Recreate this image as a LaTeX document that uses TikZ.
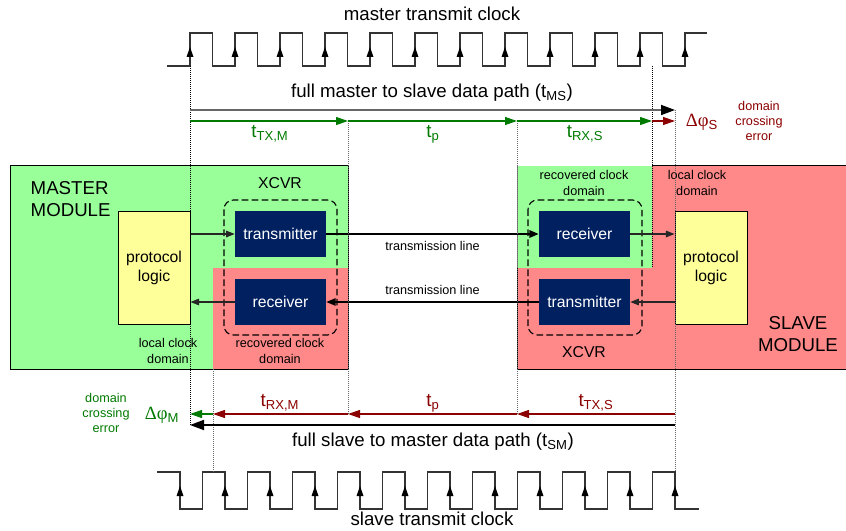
\documentclass[tikz,border=0pt]{standalone}
\usepackage{fontspec}
\setmainfont{Liberation Sans}
\newfontfamily\grkfont{Liberation Serif}
\usetikzlibrary{arrows.meta}

\definecolor{modgreen}{HTML}{99FF99}
\definecolor{modred}{HTML}{FF8888}
\definecolor{logicyellow}{HTML}{FFFF99}
\definecolor{xnavy}{HTML}{002060}
\definecolor{tgreen}{HTML}{007A00}
\definecolor{tred}{HTML}{8B0000}

\begin{document}
\begin{tikzpicture}[
        x=0.75pt, y=-0.75pt,
        font=\fontsize{14}{16.5}\selectfont,
        logic/.style={draw, line width=0.75pt, fill=logicyellow, minimum width=54pt, minimum height=84pt, inner sep=0pt, align=center, font=\fontsize{11.8}{13.75}\selectfont},
        xblk/.style={fill=xnavy, text=white, minimum width=68.25pt, minimum height=34.5pt, inner sep=0pt, font=\fontsize{11.8}{14}\selectfont},
        xcvr/.style={dash pattern=on 5pt off 2.5pt, line width=0.8pt, rounded corners=7pt},
        lbl/.style={align=center, font=\fontsize{9.5}{12.5}\selectfont},
        errlbl/.style={align=center, font=\fontsize{9.5}{10.9}\selectfont},
        link/.style={-{Triangle[length=6.5pt,width=5pt]}, line width=0.8pt, black!85},
        tline/.style={-{Triangle[length=7pt,width=5.5pt]}, line width=1.5pt},
        tline2/.style={-{Triangle[length=7pt,width=5.5pt]}, line width=1pt},
        tarr/.style={-{Triangle[length=9pt,width=6pt]}, line width=0.9pt},
        path/.style={-{Triangle[length=10.5pt,width=7.5pt,color=black]}, line width=1.3pt},
        clk/.style={line width=1pt, black!80},
        dotk/.style={black, line width=0.7pt, dash pattern=on 0.75pt off 0.75pt},
        dotg/.style={black!60, line width=0.7pt, dash pattern=on 0.75pt off 0.75pt}
    ]
        \useasboundingbox (0,0) rectangle (846,531);

        % modules
        \draw[fill=modgreen, line width=0.75pt] (10,166) rectangle (348,369);
        \fill[modred] (213,268) rectangle (348,369);
        \fill[modred] (517,166) rectangle (846,369);
        \draw[line width=0.75pt] (846,166) -- (652,166);
        \draw[line width=0.75pt] (517,166) -- (517,369) -- (846,369);
        \fill[modgreen] (517,166) rectangle (652,268);
        \draw[black!50, line width=0.5pt] (517,166) -- (517,268);

        \node[anchor=west, align=left, font=\fontsize{14}{16.5}\selectfont] (mmod) at (26,199) {MASTER\\MODULE};
        \node[align=center, font=\fontsize{14}{16.5}\selectfont] (smod) at (798,334) {SLAVE\\MODULE};
        \node[font=\fontsize{11.8}{14}\selectfont] (mxl) at (280,183) {XCVR};
        \node[font=\fontsize{11.8}{14}\selectfont] (sxl) at (584,352) {XCVR};
        \node[lbl] (mloc) at (168,351) {local clock\\domain};
        \node[lbl] (mrec) at (280,351) {recovered clock\\domain};
        \node[lbl] (sloc) at (697,183) {local clock\\domain};
        \node[lbl] (srec) at (584,183) {recovered clock\\domain};

        \draw[xcvr] (224,200) rectangle (337,335);
        \draw[xcvr] (528,200) rectangle (642,335);

        \node[logic] (mlog) at (154,268) {protocol\\logic};
        \node[xblk] (mtx) at (280.5,234) {transmitter};
        \node[xblk] (mrx) at (280.5,302) {receiver};
        \node[xblk] (srx) at (584.5,234) {receiver};
        \node[xblk] (stx) at (584.5,302) {transmitter};
        \node[logic] (slog) at (711,268) {protocol\\logic};

        \draw[link] (mlog.east |- mtx) -- (mtx.west);
        \draw[link] (mrx.west) -- (mlog.east |- mrx);
        \draw[link] (srx.east) -- (slog.west |- srx);
        \draw[link] (slog.west |- stx) -- (stx.east);
        \draw[tline] (mtx.east) -- node[lbl, below=1.5pt] (tl1) {transmission line} (srx.west);
        \draw[tline2] (stx.west) -- node[lbl, above=1.5pt] (tl2) {transmission line} (mrx.east);

        % clocks
        \node (mclk) at (432,14) {master transmit clock};
        \draw[clk] (167,66) \foreach \k in {0,...,10}{ -- ({190+45*\k},66) -- ({190+45*\k},33) -- ({212.5+45*\k},33) -- ({212.5+45*\k},66)} -- (685,66) -- (685,33) -- (707,33);
        \foreach \k in {0,...,11}
            \fill ({190+45*\k},47) -- ++(-3.5,10) -- ++(7,0) -- cycle;
        \node (sclk) at (432,519) {slave transmit clock};
        \draw[clk] (157,472) \foreach \k in {0,...,10}{ -- ({180+45*\k},472) -- ({180+45*\k},509) -- ({202.5+45*\k},509) -- ({202.5+45*\k},472)} -- (675,472) -- (675,509) -- (699,509);
        \foreach \k in {0,...,11}
            \fill ({180+45*\k},486) -- ++(-3.5,10) -- ++(7,0) -- cycle;

        \draw[dotk] (190,66) -- (190,425);
        \draw[dotk] (652,66) -- (652,268);
        \draw[dotg] (675,110) -- (675,472);
        \draw[dotg] (213,369) -- (213,472);
        \draw[dotg] (348,121) -- (348,414);
        \draw[dotg] (517,121) -- (517,414);

        % master to slave
        \coordinate (ga) at (190,110);
        \coordinate (gb) at (675,110);
        \coordinate (ta) at (190,121);
        \coordinate (tb) at (348,121);
        \coordinate (tc) at (517,121);
        \coordinate (td) at (652,121);
        \coordinate (te) at (675,121);
        \node (ms) at (432,93) {full master to slave data path (t\textsubscript{MS})};
        \draw[path, black!60] (ga) -- (gb);
        \draw[tarr, tgreen] (ta) -- (tb);
        \draw[tarr, tgreen] (tb) -- (tc);
        \draw[tarr, tgreen] (tc) -- (td);
        \draw[tarr, tred] (td) -- (te);
        \node[text=tgreen] (ttxm) at (270,134) {t\textsubscript{TX,M}};
        \node[text=tgreen] (tpm) at (433,134) {t\textsubscript{p}};
        \node[text=tgreen] (trxs) at (585,134) {t\textsubscript{RX,S}};
        \node[text=tred] (dps) at (702,122) {{\grkfont Δφ}\textsubscript{S}};
        \node[errlbl, text=tred] (errs) at (759,121) {domain\\crossing\\error};

        % slave to master
        \coordinate (ka) at (675,425);
        \coordinate (kb) at (190,425);
        \coordinate (ba) at (675,414);
        \coordinate (bb) at (517,414);
        \coordinate (bc) at (348,414);
        \coordinate (bd) at (213,414);
        \coordinate (be) at (190,414);
        \draw[tarr, tred] (ba) -- (bb);
        \draw[tarr, tred] (bb) -- (bc);
        \draw[tarr, tred] (bc) -- (bd);
        \draw[tarr, tgreen] (bd) -- (be);
        \draw[path, black] (ka) -- (kb);
        \node (sm) at (433,442) {full slave to master data path (t\textsubscript{SM})};
        \node[text=tred] (trxm) at (280,403) {t\textsubscript{RX,M}};
        \node[text=tred] (tps) at (433,403) {t\textsubscript{p}};
        \node[text=tred] (ttxs) at (596,403) {t\textsubscript{TX,S}};
        \node[text=tgreen] (dpm) at (162,415) {{\grkfont Δφ}\textsubscript{M}};
        \node[errlbl, text=tgreen] (errm) at (106,413) {domain\\crossing\\error};
    \end{tikzpicture}
\end{document}
